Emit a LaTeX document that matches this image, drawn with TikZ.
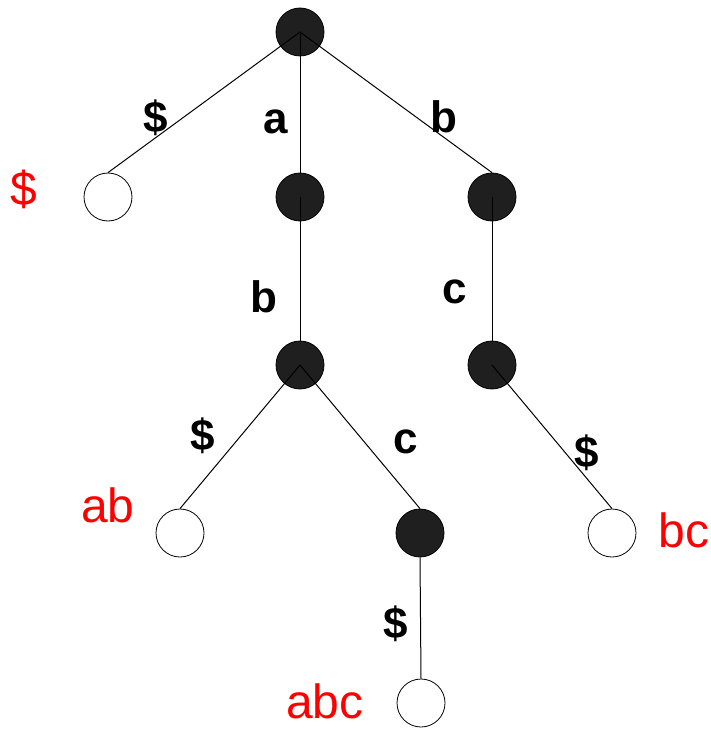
\documentclass[tikz,border=0pt]{standalone}
\usepackage{fontspec}
\setmainfont{Liberation Sans}
\begin{document}
\begin{tikzpicture}[x=1pt,y=-1pt,
  inner/.style={circle,draw=black,fill=black!88,minimum size=48pt,inner sep=0pt,line width=0.8pt},
  leaf/.style={circle,draw=black,fill=white,minimum size=48pt,inner sep=0pt,line width=0.8pt},
  edge/.style={line width=1pt,draw=black},
  lab/.style={font=\fontsize{44}{44}\selectfont\bfseries,anchor=base,inner sep=0pt},
  red/.style={font=\fontsize{48}{48}\selectfont,text=red,anchor=base,inner sep=0pt}]
\useasboundingbox (0,0) rectangle (711,730);
% nodes
\node[inner] (r) at (300,32) {};
\node[leaf] (ld) at (108,197) {};
\node[inner] (a) at (300,197) {};
\node[inner] (b) at (492,197) {};
\node[inner] (ab) at (300,365) {};
\node[inner] (bc) at (492,365) {};
\node[leaf] (lab) at (180,533) {};
\node[inner] (abc) at (420,533) {};
\node[leaf] (lbc) at (612,533) {};
\node[leaf] (labc) at (421,703) {};
% edges
\draw[edge] (r.center) -- (ld.north);
\draw[edge] (r.center) -- (a.north);
\draw[edge] (r.center) -- (b.north);
\draw[edge] (a.center) -- (ab.north);
\draw[edge] (b.center) -- (bc.north);
\draw[edge] (ab.center) -- (lab.north);
\draw[edge] (ab.center) -- (abc.north);
\draw[edge] (bc.center) -- (lbc.north);
\draw[edge] (abc.south) -- (labc.north);
% edge labels
\node[lab] (e1) at (156,133) {\$};
\node[lab] (e2) at (276,134) {a};
\node[lab] (e3) at (444,133) {b};
\node[lab] (e4) at (264,312) {b};
\node[lab] (e5) at (455,303) {c};
\node[lab] (e6) at (203,450) {\$};
\node[lab] (e7) at (406,453) {c};
\node[lab] (e8) at (587,467) {\$};
\node[lab] (e9) at (396,638) {\$};
% leaf labels
\node[red] (t1) at (24,205) {\$};
\node[red] (t2) at (108,522) {ab};
\node[red] (t3) at (684,547) {bc};
\node[red] (t4) at (325,718) {abc};
\end{tikzpicture}
\end{document}
